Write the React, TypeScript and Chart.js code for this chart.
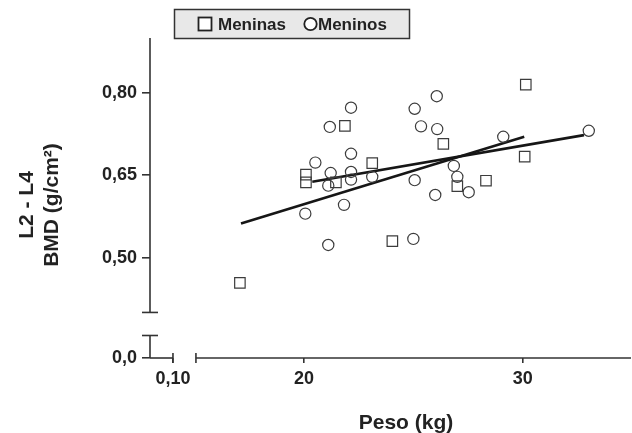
import React, { useEffect, useRef } from "react";
import { Chart, registerables } from "chart.js";

Chart.register(...registerables);

// ---- Data ----
const meninasPeso = [17.07, 20.09, 20.09, 21.46, 21.87, 23.12, 24.04, 26.37, 27.01, 28.32, 30.09, 30.14];
const meninasBMD = [0.454, 0.651, 0.637, 0.637, 0.74, 0.672, 0.53, 0.707, 0.63, 0.64, 0.684, 0.815];

const meninosPeso = [
  22.15, 21.18, 22.15, 20.52, 21.22, 22.15, 22.15, 21.11, 23.12, 21.83, 20.06, 21.11,
  26.07, 25.06, 25.35, 26.09, 29.11, 33.02, 26.85, 27.01, 25.06, 27.53, 26.0, 25.0,
];
const meninosBMD = [
  0.773, 0.738, 0.689, 0.673, 0.654, 0.656, 0.642, 0.631, 0.647, 0.596, 0.58, 0.523,
  0.794, 0.771, 0.739, 0.734, 0.72, 0.731, 0.667, 0.647, 0.641, 0.619, 0.614, 0.534,
];

// regression lines (end points)
const fitMeninasPeso = [17.12, 30.07];
const fitMeninasBMD = [0.562, 0.72];
const fitMeninosPeso = [20.38, 32.8];
const fitMeninosBMD = [0.638, 0.723];

// axes
const yTicks = [0.5, 0.65, 0.8];
const xTicks = [20, 30];
const yBreakLabel = "0,0";
const xBreakLabel = "0,10";
const Y_MIN = 0.317;
const Y_MAX = 0.9;
const Y_BREAK_HIGH = 0.4;
const Y_BREAK_LOW = 0.358;
const X_MIN = 12.96;
const X_MAX = 34.95;
const X_BREAK_LEFT = 14.01;
const X_BREAK_RIGHT = 15.06;

const legendLabels = ["Meninas", "Meninos"];
const xTitle = "Peso (kg)";
const yTitleLines = ["L2 - L4", "BMD (g/cm²)"];

const FONT = "'Liberation Sans', Arial, Helvetica, sans-serif";
const TEXT = "#222222";
const AXIS = "#333333";

const zip = (xs: number[], ys: number[]) => xs.map((x, i) => ({ x, y: ys[i] }));
const fmtY = (v: number) => v.toFixed(2).replace(".", ",");

const decorPlugin = {
  id: "decor",
  afterDraw(chart: any) {
    const { ctx, chartArea } = chart;
    const x = chart.scales.x;
    const y = chart.scales.y;
    ctx.save();
    ctx.strokeStyle = AXIS;
    ctx.lineWidth = 1.6;
    ctx.lineCap = "butt";
    const ax = chartArea.left;
    const ay = chartArea.bottom;
    const seg = (x1: number, y1: number, x2: number, y2: number) => {
      ctx.beginPath();
      ctx.moveTo(x1, y1);
      ctx.lineTo(x2, y2);
      ctx.stroke();
    };
    // broken y axis
    const yb1 = y.getPixelForValue(Y_BREAK_HIGH);
    const yb2 = y.getPixelForValue(Y_BREAK_LOW);
    seg(ax, chartArea.top, ax, yb1);
    seg(ax - 8, yb1, ax + 8, yb1);
    seg(ax - 8, yb2, ax + 8, yb2);
    seg(ax, yb2, ax, ay);
    // broken x axis
    const xb1 = x.getPixelForValue(X_BREAK_LEFT);
    const xb2 = x.getPixelForValue(X_BREAK_RIGHT);
    seg(ax, ay, xb1, ay);
    seg(xb1, ay - 5, xb1, ay + 5);
    seg(xb2, ay - 5, xb2, ay + 5);
    seg(xb2, ay, chartArea.right, ay);

    // axis titles
    ctx.fillStyle = TEXT;
    ctx.font = `bold 21px ${FONT}`;
    ctx.textAlign = "center";
    ctx.textBaseline = "alphabetic";
    ctx.fillText(xTitle, 406, 429);
    const ybase = [33, 58];
    yTitleLines.forEach((t, i) => {
      ctx.save();
      ctx.translate(ybase[i], 205);
      ctx.rotate(-Math.PI / 2);
      ctx.fillText(t, 0, 0);
      ctx.restore();
    });

    // legend box
    ctx.fillStyle = "#e8e8e8";
    ctx.fillRect(174.5, 9.5, 235, 29);
    ctx.strokeStyle = "#333333";
    ctx.lineWidth = 1.5;
    ctx.strokeRect(174.5, 9.5, 235, 29);
    ctx.lineWidth = 1.8;
    ctx.strokeStyle = "#222222";
    ctx.fillStyle = "#ffffff";
    ctx.fillRect(198.5, 17.5, 13, 13);
    ctx.strokeRect(198.5, 17.5, 13, 13);
    ctx.beginPath();
    ctx.arc(310.5, 24, 6.2, 0, Math.PI * 2);
    ctx.fill();
    ctx.stroke();
    ctx.fillStyle = TEXT;
    ctx.font = `bold 17px ${FONT}`;
    ctx.textAlign = "left";
    ctx.fillText(legendLabels[0], 218, 30);
    ctx.fillText(legendLabels[1], 318, 30);
    ctx.restore();
  },
};

export default function App() {
  const ref = useRef<HTMLCanvasElement | null>(null);
  useEffect(() => {
    document.body.style.margin = "0";
    if (!ref.current) return;
    const markerColor = "#3c3c3c";
    const chart = new Chart(ref.current, {
      type: "scatter",
      data: {
        datasets: [
          {
            label: legendLabels[0],
            data: zip(meninasPeso, meninasBMD),
            pointStyle: "rect",
            pointRadius: 7.4,
            borderColor: markerColor,
            borderWidth: 1.2,
            backgroundColor: "rgba(0,0,0,0)",
          },
          {
            label: legendLabels[1],
            data: zip(meninosPeso, meninosBMD),
            pointStyle: "circle",
            pointRadius: 5.6,
            borderColor: markerColor,
            borderWidth: 1.2,
            backgroundColor: "rgba(0,0,0,0)",
          },
          {
            label: "fit-meninas",
            data: zip(fitMeninasPeso, fitMeninasBMD),
            showLine: true,
            pointRadius: 0,
            borderColor: "#161616",
            borderWidth: 2.6,
          },
          {
            label: "fit-meninos",
            data: zip(fitMeninosPeso, fitMeninosBMD),
            showLine: true,
            pointRadius: 0,
            borderColor: "#161616",
            borderWidth: 2.6,
          },
        ],
      } as any,
      options: {
        responsive: false,
        animation: false,
        devicePixelRatio: 1,
        layout: { autoPadding: false, padding: { left: 0, top: 38, right: 1, bottom: 0 } },
        plugins: {
          legend: { display: false },
          tooltip: { enabled: false },
        },
        scales: {
          x: {
            type: "linear",
            min: X_MIN,
            max: X_MAX,
            afterBuildTicks: (s: any) => {
              s.ticks = [X_BREAK_LEFT, ...xTicks].map((v) => ({ value: v }));
            },
            afterFit: (s: any) => {
              s.height = 75;
              s.paddingLeft = 0;
              s.paddingRight = 0;
            },
            ticks: {
              autoSkip: false,
              maxRotation: 0,
              padding: 5,
              color: TEXT,
              font: { family: FONT, size: 18, weight: "bold" },
              callback: (v: any) => (v === X_BREAK_LEFT ? xBreakLabel : String(v)),
            },
            grid: { drawOnChartArea: false, tickLength: 5, color: AXIS, lineWidth: 1.6 },
            border: { display: false },
          },
          y: {
            type: "linear",
            min: Y_MIN,
            max: Y_MAX,
            afterBuildTicks: (s: any) => {
              s.ticks = [Y_MIN, ...yTicks].map((v) => ({ value: v }));
            },
            afterFit: (s: any) => {
              s.width = 150;
              s.paddingTop = 0;
              s.paddingBottom = 0;
            },
            ticks: {
              autoSkip: false,
              padding: 5,
              color: TEXT,
              font: { family: FONT, size: 18, weight: "bold" },
              callback: (v: any) => (v === Y_MIN ? yBreakLabel : fmtY(v)),
            },
            grid: { drawOnChartArea: false, tickLength: 8, color: AXIS, lineWidth: 1.6 },
            border: { display: false },
          },
        },
      } as any,
      plugins: [decorPlugin],
    });
    return () => chart.destroy();
  }, []);
  return (
    <div style={{ width: 632, height: 433 }}>
      <canvas ref={ref} width={632} height={433} style={{ display: "block" }} />
    </div>
  );
}
